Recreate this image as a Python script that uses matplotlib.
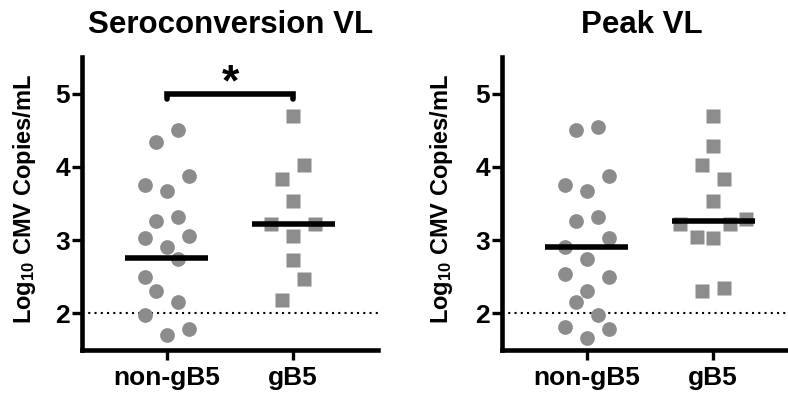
import matplotlib.pyplot as plt
import numpy as np

plt.rcParams['font.family'] = ['Liberation Sans', 'DejaVu Sans']
plt.rcParams['font.weight'] = 'bold'
plt.rcParams['axes.labelweight'] = 'bold'
plt.rcParams['mathtext.fontset'] = 'custom'
plt.rcParams['mathtext.rm'] = 'Liberation Sans:bold'
plt.rcParams['mathtext.it'] = 'Liberation Sans:bold'
plt.rcParams['mathtext.bf'] = 'Liberation Sans:bold'

groups = ['non-gB5', 'gB5']
titles = ['Seroconversion VL', 'Peak VL']
ylabel = 'Log$_{10}$ CMV Copies/mL'

# log10 viral loads, plus the column slot each point sits in
sero_non = [4.51, 4.34, 3.88, 3.75, 3.67, 3.32, 3.26, 3.06, 3.03, 2.90, 2.74, 2.49, 2.31, 2.15, 1.98, 1.79, 1.70]
sero_non_slot = [1, -1, 2, -2, 0, 1, -1, 2, -2, 0, 1, -2, -1, 1, -2, 2, 0]
sero_gb5 = [4.70, 4.02, 3.83, 3.54, 3.22, 3.22, 3.05, 2.73, 2.47, 2.18]
sero_gb5_slot = [0, 1, -1, 0, -2, 2, 0, 0, 1, -1]

peak_non = [4.51, 4.54, 3.88, 3.75, 3.67, 3.26, 3.32, 3.03, 2.90, 2.74, 2.54, 2.49, 2.31, 2.15, 1.98, 1.82, 1.79, 1.67]
peak_non_slot = [-1, 1, 2, -2, 0, -1, 1, 2, -2, 0, -2, 2, 0, -1, 1, -2, 2, 0]
peak_gb5 = [4.69, 4.28, 4.02, 3.84, 3.54, 3.22, 3.22, 3.29, 3.04, 3.03, 2.31, 2.35]
peak_gb5_slot = [0, 0, -1, 1, 0, -3, 1.5, 3, -1.5, 0, -1, 1]

# median bars as drawn
sero_medians = [2.75, 3.22]
peak_medians = [2.91, 3.26]

detection_limit = 2.0

grey = '#8c8c8c'
step = 0.087  # horizontal spacing of one slot, in category units

fig = plt.figure(figsize=(7.88, 3.97), dpi=100)
W, H = 788.0, 397.0
ax1 = fig.add_axes([82 / W, 1 - 350 / H, 296 / W, 293 / H])
ax2 = fig.add_axes([502 / W, 1 - 350 / H, 296 / W, 293 / H])

panels = [
    (ax1, sero_non, sero_non_slot, sero_gb5, sero_gb5_slot, sero_medians, -0.150),
    (ax2, peak_non, peak_non_slot, peak_gb5, peak_gb5_slot, peak_medians, -0.160),
]

for ax, non, non_slot, gb5, gb5_slot, meds, labx in panels:
    ax.axhline(detection_limit, color='k', lw=1.5, linestyle=(0, (1, 2)), zorder=1)
    ax.plot(0 + np.array(non_slot) * step, non, 'o', ms=10.6, color=grey, mec='none', zorder=2, clip_on=False)
    ax.plot(1 + np.array(gb5_slot) * step, gb5, 's', ms=10.6, color=grey, mec='none', zorder=2, clip_on=False)
    for i, m in enumerate(meds):
        ax.plot([i - 0.33, i + 0.33], [m, m], color='k', lw=4, solid_capstyle='butt', zorder=4)

    ax.set_xlim(-0.67, 1.67)
    ax.set_ylim(1.5, 5.5)
    ax.set_xticks([0, 1])
    ax.set_xticklabels(groups)
    ax.set_yticks([2, 3, 4, 5])
    for s in ['top', 'right']:
        ax.spines[s].set_visible(False)
    for s in ['left', 'bottom']:
        ax.spines[s].set_linewidth(3.3)
    ax.tick_params(axis='both', length=7.5, width=2.4, labelsize=19)
    ax.tick_params(axis='y', pad=1)
    ax.tick_params(axis='x', pad=4)
    ax.set_ylabel(ylabel, fontsize=17, fontweight='bold')
    ax.yaxis.set_label_coords(labx, 0.515)

# significance bracket
ax1.plot([0, 0, 1, 1], [4.93, 5.0, 5.0, 4.93], color='k', lw=4,
         solid_capstyle='round', solid_joinstyle='miter', zorder=5, clip_on=False)
ax1.text(0.5, 5.13, '*', ha='center', va='center', fontsize=32)

fig.text(231 / W, 1 - 33 / H, titles[0], ha='center', va='baseline', fontsize=22.5)
fig.text(642 / W, 1 - 33 / H, titles[1], ha='center', va='baseline', fontsize=22.5)

fig.savefig('out.png', dpi=100)
